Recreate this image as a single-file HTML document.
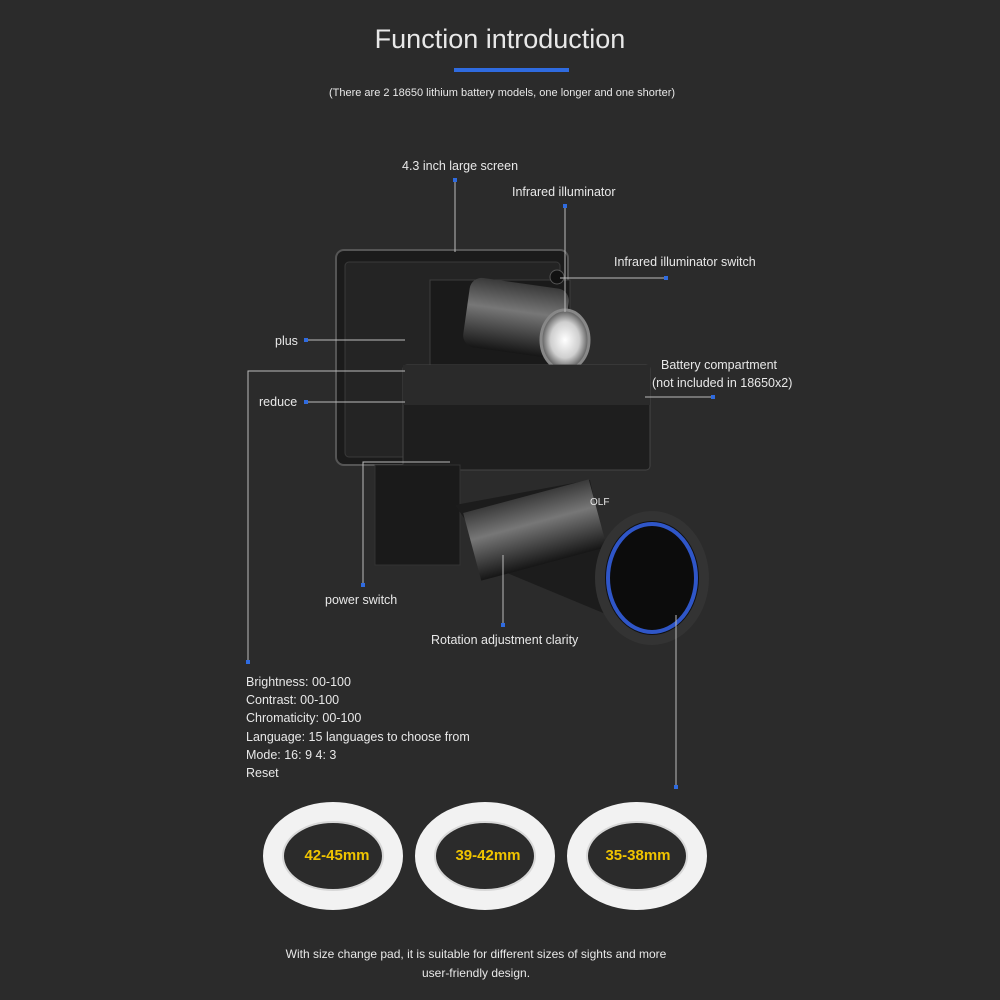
<!DOCTYPE html>
<html><head><meta charset="utf-8"><style>
html,body{margin:0;padding:0;background:#2b2b2b;}
svg{display:block}
text{font-family:"Liberation Sans",sans-serif;fill:#e8e8e8}
</style></head><body>
<svg width="1000" height="1000" viewBox="0 0 1000 1000">
<defs>
<radialGradient id="lens" cx="50%" cy="50%" r="50%"><stop offset="0" stop-color="#ffffff"/><stop offset="0.6" stop-color="#cfcfcf"/><stop offset="1" stop-color="#555"/></radialGradient>
<linearGradient id="tube" x1="0" y1="0" x2="0" y2="1"><stop offset="0" stop-color="#3a3a3a"/><stop offset="0.4" stop-color="#777"/><stop offset="1" stop-color="#161616"/></linearGradient>
</defs>
<rect width="1000" height="1000" fill="#2b2b2b"/>
<text x="500" y="48" font-size="27" text-anchor="middle" fill="#fff">Function  introduction</text>
<rect x="454" y="68" width="115" height="4" fill="#2f6be0"/>
<text x="502" y="96" font-size="11" text-anchor="middle" fill="#cfcfcf">(There are 2 18650 lithium battery models, one longer and one shorter)</text>

<!-- device -->
<rect x="336" y="250" width="232" height="215" rx="8" fill="#1b1b1b" stroke="#555" stroke-width="2"/>
<rect x="345" y="262" width="215" height="195" rx="4" fill="#242424" stroke="#3a3a3a"/>
<rect x="430" y="280" width="140" height="95" fill="#1a1a1a" stroke="#3c3c3c"/>
<rect x="466" y="283" width="100" height="70" rx="12" fill="url(#tube)" transform="rotate(8 516 318)"/>
<ellipse cx="565" cy="340" rx="24" ry="30" fill="url(#lens)" stroke="#888" stroke-width="3"/>
<circle cx="557" cy="277" r="7" fill="#111" stroke="#555"/>
<rect x="403" y="365" width="247" height="105" rx="4" fill="#1e1e1e" stroke="#444"/>
<rect x="403" y="365" width="247" height="40" fill="#2a2a2a"/>
<rect x="375" y="465" width="85" height="100" fill="#1a1a1a" stroke="#333"/>
<path d="M455 505 L590 480 L620 620 L500 570 Z" fill="#1c1c1c"/>
<rect x="470" y="495" width="130" height="70" fill="url(#tube)" transform="rotate(-15 535 530)"/>
<ellipse cx="652" cy="578" rx="52" ry="62" fill="#101010" stroke="#333" stroke-width="10"/>
<ellipse cx="652" cy="578" rx="44" ry="54" fill="#0c0c0c" stroke="#2f56c8" stroke-width="4"/>
<text x="590" y="505" font-size="10" fill="#ddd">OLF</text>

<!-- connectors -->
<g stroke="#bbb" stroke-width="1" fill="none">
<path d="M455 180 V252"/>
<path d="M565 206 V312"/>
<path d="M665 278 H560"/>
<path d="M306 340 H405"/>
<path d="M306 402 H405"/>
<path d="M405 371 H248 V662"/>
<path d="M713 397 H645"/>
<path d="M363 585 V462 H450"/>
<path d="M503 625 V555"/>
<path d="M676 787 V615"/>
</g>
<g fill="#2f6be0">
<rect x="453" y="178" width="4" height="4"/>
<rect x="563" y="204" width="4" height="4"/>
<rect x="664" y="276" width="4" height="4"/>
<rect x="304" y="338" width="4" height="4"/>
<rect x="304" y="400" width="4" height="4"/>
<rect x="246" y="660" width="4" height="4"/>
<rect x="711" y="395" width="4" height="4"/>
<rect x="361" y="583" width="4" height="4"/>
<rect x="501" y="623" width="4" height="4"/>
<rect x="674" y="785" width="4" height="4"/>
</g>

<g font-size="12.5">
<text x="402" y="170">4.3 inch large screen</text>
<text x="512" y="196">Infrared illuminator</text>
<text x="614" y="266">Infrared illuminator switch</text>
<text x="275" y="345">plus</text>
<text x="259" y="406">reduce</text>
<text x="661" y="369">Battery compartment</text>
<text x="652" y="387">(not included in 18650x2)</text>
<text x="325" y="604">power switch</text>
<text x="431" y="644">Rotation adjustment clarity</text>
<text x="246" y="686">Brightness: 00-100</text>
<text x="246" y="704">Contrast: 00-100</text>
<text x="246" y="722">Chromaticity: 00-100</text>
<text x="246" y="741">Language: 15 languages to choose from</text>
<text x="246" y="759">Mode: 16: 9 4: 3</text>
<text x="246" y="777">Reset</text>
</g>

<!-- rings -->
<g fill="none" stroke="#f2f2f2" stroke-width="20">
<ellipse cx="333" cy="856" rx="60" ry="44"/>
<ellipse cx="485" cy="856" rx="60" ry="44"/>
<ellipse cx="637" cy="856" rx="60" ry="44"/>
</g>
<g fill="none" stroke="#d8d8d8" stroke-width="2">
<ellipse cx="333" cy="856" rx="50" ry="34"/>
<ellipse cx="485" cy="856" rx="50" ry="34"/>
<ellipse cx="637" cy="856" rx="50" ry="34"/>
</g>
<g font-size="15" font-weight="bold" text-anchor="middle">
<text x="337" y="860" style="fill:#f0c400">42-45mm</text>
<text x="488" y="860" style="fill:#f0c400">39-42mm</text>
<text x="638" y="860" style="fill:#f0c400">35-38mm</text>
</g>
<text x="476" y="958" font-size="12" text-anchor="middle">With size change pad, it is suitable for different sizes of sights and more</text>
<text x="476" y="977" font-size="12" text-anchor="middle">user-friendly design.</text>
</svg>
</body></html>
